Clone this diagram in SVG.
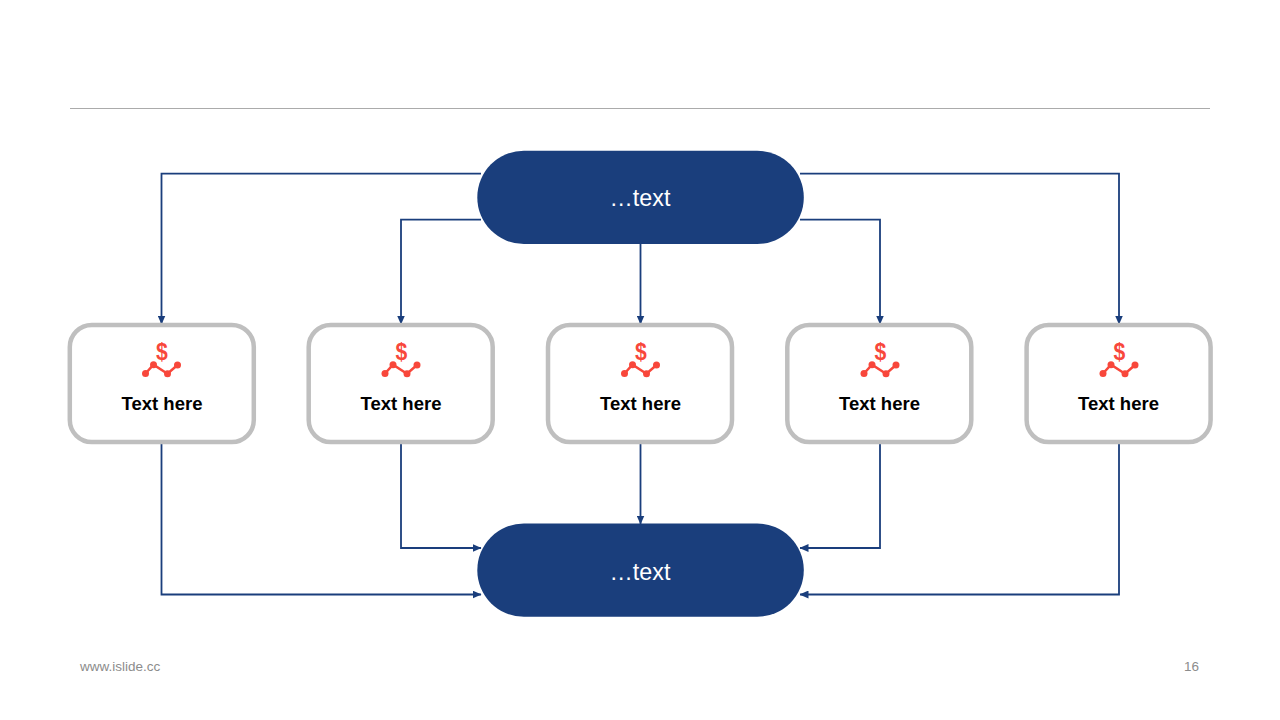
<svg xmlns="http://www.w3.org/2000/svg" width="1280" height="720" viewBox="0 0 1280 720">
<style>
.t{font-family:"Liberation Sans",Arial,sans-serif}
.pill{fill:#1a3e7c}
.pt{fill:#fff;font-size:23.300px;text-anchor:middle}
.box{fill:#fff;stroke:#bfbfbf;stroke-width:4.500}
.bt{fill:#000;font-size:18.500px;font-weight:700;text-anchor:middle}
.c{fill:none;stroke:#1a3e7c;stroke-width:1.800}
.foot{fill:#8c8c8c;font-size:13.500px}
</style>
<defs>
<marker id="a" markerUnits="userSpaceOnUse" markerWidth="9" markerHeight="8" refX="8.500" refY="4" orient="auto"><path d="M0 0L9 4L0 8z" fill="#1a3e7c"/></marker>
<g id="icon">
<path d="M-16 19.500L-8 10.700L6 19.700L16 11" fill="none" stroke="#f8473b" stroke-width="2.500"/>
<circle cx="-16" cy="19.500" r="3.500" fill="#f8473b"/><circle cx="-8" cy="10.700" r="3.500" fill="#f8473b"/><circle cx="6" cy="19.700" r="3.500" fill="#f8473b"/><circle cx="16" cy="11" r="3.500" fill="#f8473b"/>
<text class="t" transform="translate(0.300,5.500) scale(0.9,1)" font-size="23.500" font-weight="700" fill="#f8473b" text-anchor="middle">$</text>
</g>
</defs>
<rect id="rule" x="70" y="108" width="1140" height="1" fill="#ababab"/>
<g id="connectors">
<path class="c" d="M481 173.700H161.500V324" marker-end="url(#a)"/>
<path class="c" d="M481 219.700H401V324" marker-end="url(#a)"/>
<path class="c" d="M640.500 244V324" marker-end="url(#a)"/>
<path class="c" d="M800 219.700H880V324" marker-end="url(#a)"/>
<path class="c" d="M800 173.700H1119V324" marker-end="url(#a)"/>
<path class="c" d="M161.500 443V594.500H481" marker-end="url(#a)"/>
<path class="c" d="M401 443V548H481" marker-end="url(#a)"/>
<path class="c" d="M640.500 443V524" marker-end="url(#a)"/>
<path class="c" d="M880 443V548H800" marker-end="url(#a)"/>
<path class="c" d="M1119 443V594.500H800" marker-end="url(#a)"/>
</g>
<g id="top"><rect class="pill" x="477.300" y="150.700" width="326.500" height="93.300" rx="46.600"/><text class="t pt" x="640" y="206">…text</text></g>
<g id="bottom"><rect class="pill" x="477.300" y="523.500" width="326.500" height="93.300" rx="46.600"/><text class="t pt" x="640" y="579.500">…text</text></g>
<g id="n1"><rect class="box" x="69.800" y="325" width="184" height="117.100" rx="22"/><use href="#icon" x="161.500" y="354"/><text class="t bt" x="162" y="410">Text here</text></g>
<g id="n2"><rect class="box" x="308.700" y="325" width="184" height="117.100" rx="22"/><use href="#icon" x="401" y="354"/><text class="t bt" x="401" y="410">Text here</text></g>
<g id="n3"><rect class="box" x="548" y="325" width="184" height="117.100" rx="22"/><use href="#icon" x="640.500" y="354"/><text class="t bt" x="640.500" y="410">Text here</text></g>
<g id="n4"><rect class="box" x="787.300" y="325" width="184" height="117.100" rx="22"/><use href="#icon" x="880" y="354"/><text class="t bt" x="879.500" y="410">Text here</text></g>
<g id="n5"><rect class="box" x="1026.600" y="325" width="184" height="117.100" rx="22"/><use href="#icon" x="1119" y="354"/><text class="t bt" x="1118.500" y="410">Text here</text></g>
<text class="t foot" x="80" y="670.500">www.islide.cc</text>
<text class="t foot" x="1199" y="670.500" text-anchor="end">16</text>
</svg>
